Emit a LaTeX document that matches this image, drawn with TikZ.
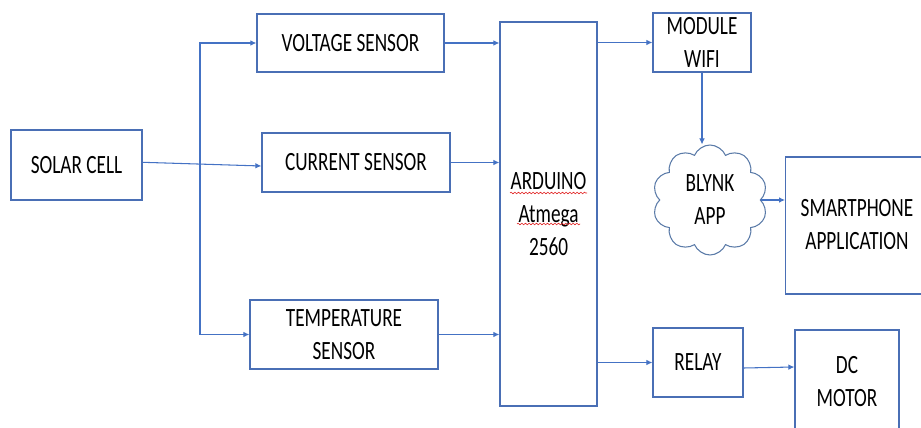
\documentclass[tikz,border=0pt]{standalone}
\usepackage{fontspec}
\setmainfont{Carlito}[FakeStretch=0.73]
\usepackage{xcolor}
\definecolor{boxedge}{HTML}{4A6FB5}
\definecolor{wire}{HTML}{4472C4}
\definecolor{cloudedge}{HTML}{5B7BA8}
\definecolor{spellred}{HTML}{E02020}
\usepackage{tikz}
\usetikzlibrary{arrows.meta, calc, shapes.symbols, decorations.pathmorphing}

\begin{document}
\begin{tikzpicture}[
  x=0.03cm, y=-0.03cm,
  font=\fontsize{22.5}{28.2}\selectfont,
  block/.style={
    draw=boxedge, line width=1.1pt, inner sep=0pt, align=center
  },
  link/.style={-{Latex[length=1.8mm, width=1.7mm]}, wire, line width=0.9pt},
  squiggle/.style={
    spellred, line width=0.5pt, decorate,
    decoration={snake, amplitude=0.25mm, segment length=1.1mm}
  }
]
  \useasboundingbox (0,0) rectangle (921,428);
  \clip (0,0) rectangle (921,428);

  \node[block, minimum width=3.93cm, minimum height=2.1cm] (solar) at (76.5,165) {SOLAR CELL};
  \node[block, minimum width=5.61cm, minimum height=1.74cm] (volt) at (350.5,43) {VOLTAGE SENSOR};
  \node[block, minimum width=5.64cm, minimum height=1.77cm] (curr) at (356,162.5) {CURRENT SENSOR};
  \node[block, minimum width=5.64cm, minimum height=2.07cm] (temp) at (344,334.5) {TEMPERATURE\\SENSOR};
  \node[block, minimum width=2.91cm, minimum height=11.52cm] (ardu) at (548.5,214) {ARDUINO\\Atmega\\2560};
  \node[block, minimum width=2.94cm, minimum height=1.77cm] (wifi) at (702,42.5) {MODULE\\WIFI};
  \node[cloud, draw=cloudedge, line width=0.9pt, cloud puffs=10, cloud puff arc=135,
        aspect=1, inner sep=0pt, minimum width=3.45cm, minimum height=3.3cm,
        align=center] (blynk) at (710,200) {BLYNK\\APP};
  \node[block, minimum width=4.8cm, minimum height=4.11cm, anchor=west] (phone) at (785,225.5) {};
  \node[align=center] (phonetext) at (857,224.5) {SMARTPHONE\\APPLICATION};
  \node[block, minimum width=2.7cm, minimum height=2.07cm] (relay) at (698,362.5) {RELAY};
  \node[block, minimum width=3.12cm, minimum height=3.09cm] (motor) at (847,381.5) {DC\\MOTOR};

  \draw[squiggle] ($(ardu.center)+(-38.5,-21)$) -- ($(ardu.center)+(38.5,-21)$);
  \draw[squiggle] ($(ardu.center)+(-31.5,10)$) -- ($(ardu.center)+(31.5,10)$);

  \coordinate (split) at (200,164);
  \draw[link] ($(solar.east)+(0,-2.7)$) -- ($(curr.west)+(0,3.5)$);
  \draw[link] (split) |- (volt.west);
  \draw[link] (split) |- (temp.west);

  \draw[link] (volt.east) -- (volt.east -| ardu.west);
  \draw[link] (curr.east) -- (curr.east -| ardu.west);
  \draw[link] (temp.east) -- (temp.east -| ardu.west);

  \draw[link] (wifi.west -| ardu.east) -- (wifi.west);
  \draw[link] (wifi.south) -- (wifi.south |- blynk.north);
  \draw[link] (blynk.east) -- (blynk.east -| phone.west);
  \draw[link] (relay.west -| ardu.east) -- (relay.west);
  \draw[link] ($(relay.east)+(0,5.5)$) -- ($(motor.west)+(0,-14.5)$);
\end{tikzpicture}
\end{document}
